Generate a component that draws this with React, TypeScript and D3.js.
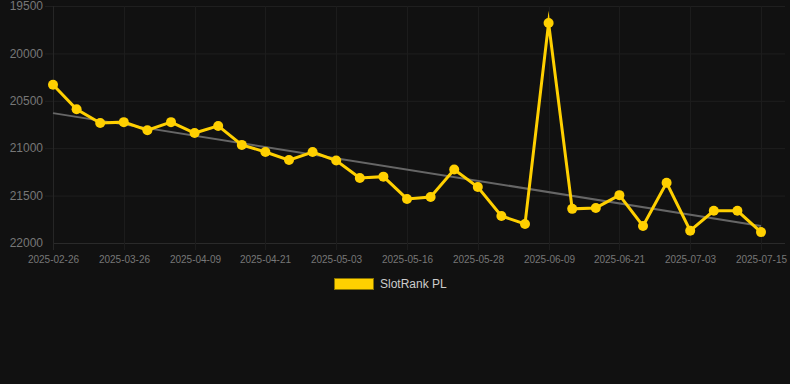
import React, { useEffect, useRef } from "react";
import * as d3 from "d3";

// dates of each point (every 3rd one is labelled)
const dates = [
  "2025-02-26", "2025-03-12", "2025-03-19", "2025-03-26", "2025-03-30", "2025-04-05",
  "2025-04-09", "2025-04-13", "2025-04-17", "2025-04-21", "2025-04-25", "2025-04-29",
  "2025-05-03", "2025-05-07", "2025-05-12", "2025-05-16", "2025-05-20", "2025-05-24",
  "2025-05-28", "2025-06-01", "2025-06-05", "2025-06-09", "2025-06-13", "2025-06-17",
  "2025-06-21", "2025-06-25", "2025-06-29", "2025-07-03", "2025-07-07", "2025-07-11",
  "2025-07-15",
];

// rank values
const ranks = [
  20330, 20590, 20735, 20725, 20810, 20725,
  20840, 20765, 20965, 21040, 21125, 21040,
  21130, 21315, 21300, 21535, 21515, 21225,
  21410, 21715, 21800, 19680, 21640, 21630,
  21495, 21820, 21365, 21870, 21660, 21660,
  21885,
];

const yTicks = [19500, 20000, 20500, 21000, 21500, 22000];
// trend line, values at first and last date
const trend = [20630, 21820];
const seriesName = "SlotRank PL";

const W = 790, H = 384;
const margin = { left: 53, right: 5, top: 6, bottom: 141 };
const YELLOW = "#ffd000";

export default function App() {
  const ref = useRef<SVGSVGElement>(null);

  useEffect(() => {
    const svg = d3.select(ref.current);
    svg.selectAll("*").remove();

    const x = d3.scalePoint<string>().domain(dates).range([margin.left, 761]);
    const y = d3.scaleLinear().domain([19500, 22000]).range([margin.top, H - margin.bottom]);
    const right = W - margin.right;

    svg.append("rect").attr("width", W).attr("height", H).attr("fill", "#111111");

    // horizontal grid + y labels
    const gy = svg.append("g");
    yTicks.forEach((t) => {
      gy.append("line")
        .attr("x1", t === 22000 ? margin.left : margin.left - 8).attr("x2", right)
        .attr("y1", y(t) + 0.5).attr("y2", y(t) + 0.5)
        .attr("stroke", t === 22000 ? "#2a2a2a" : "#1f1f1f");
      gy.append("text")
        .attr("x", 43).attr("y", y(t))
        .attr("dy", "0.35em")
        .attr("text-anchor", "end")
        .attr("font-size", 12)
        .attr("fill", "#777")
        .text(t);
    });

    // vertical grid + x labels
    const gx = svg.append("g");
    dates.forEach((d, i) => {
      if (i % 3 !== 0) return;
      const px = Math.round(x(d)!) + 0.5;
      gx.append("line")
        .attr("x1", px).attr("x2", px)
        .attr("y1", margin.top).attr("y2", y(22000) + 7)
        .attr("stroke", i === 0 ? "#262626" : "#1c1c1c");
      gx.append("text")
        .attr("x", px).attr("y", 259)
        .attr("dy", "0.35em")
        .attr("text-anchor", "middle")
        .attr("font-size", 10)
        .attr("fill", "#777")
        .text(d);
    });

    // trend line
    svg.append("line")
      .attr("x1", x(dates[0])!).attr("y1", y(trend[0]))
      .attr("x2", x(dates[dates.length - 1])!).attr("y2", y(trend[1]))
      .attr("stroke", "#666")
      .attr("stroke-width", 2);

    // series line
    svg.append("path")
      .datum(ranks)
      .attr("fill", "none")
      .attr("stroke", YELLOW)
      .attr("stroke-width", 3)
      .attr("stroke-linejoin", "miter")
      .attr("stroke-miterlimit", 10)
      .attr("d", d3.line<number>()
        .x((d, i) => x(dates[i])!)
        .y((d) => y(d)));

    // points
    svg.append("g")
      .selectAll("circle")
      .data(ranks)
      .enter()
      .append("circle")
      .attr("cx", (d, i) => x(dates[i])!)
      .attr("cy", (d) => y(d))
      .attr("r", 5)
      .attr("fill", YELLOW);

    // legend
    svg.append("rect")
      .attr("x", 334.5).attr("y", 278.5)
      .attr("width", 39).attr("height", 11)
      .attr("fill", YELLOW)
      .attr("stroke", "#8a7400")
      .attr("stroke-width", 1);
    svg.append("text")
      .attr("x", 380).attr("y", 284)
      .attr("dy", "0.35em")
      .attr("font-size", 12)
      .attr("fill", "#ccc")
      .text(seriesName);
  }, []);

  return (
    <div style={{ position: "absolute", left: 0, top: 0 }}>
      <svg ref={ref} width={W} height={H}
        style={{ display: "block", fontFamily: "'Liberation Sans', Arial, sans-serif" }} />
    </div>
  );
}
